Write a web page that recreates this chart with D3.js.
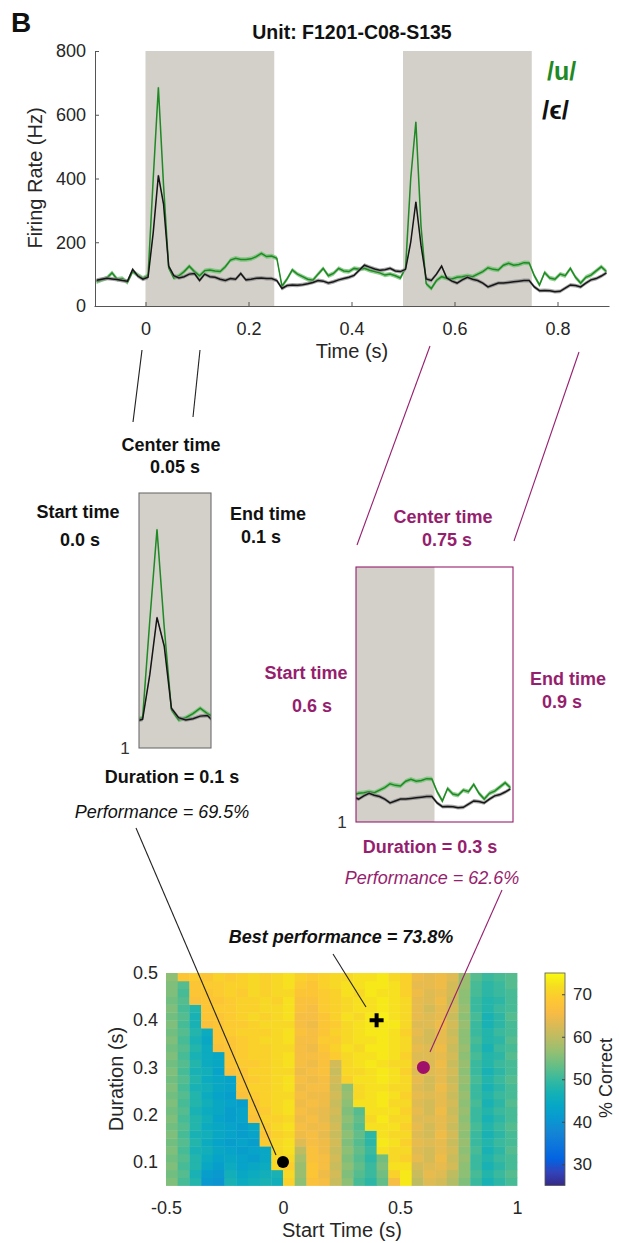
<!DOCTYPE html>
<html><head><meta charset="utf-8">
<script src="https://cdn.jsdelivr.net/npm/d3@7"></script>
<style>
body{margin:0;background:#fff}
svg{display:block}
text{font-family:"Liberation Sans",Arial,Helvetica,sans-serif}
</style>
</head><body>
<svg id="fig" width="619" height="1243"></svg>
<script>
// ---------- PSTH (10 ms bins, -0.1 s to 0.9 s) ----------
const binStart = -0.1, binWidth = 0.01;
const rateU = [76,82,88,104,84,86,74,108,97,87,
  95,400,686,380,120,88,95,108,125,108,
  95,111,113,110,108,123,144,150,146,146,
  148,155,165,155,157,150,62,85,113,100,
  92,84,81,100,118,95,102,118,110,108,
  118,115,118,112,108,104,97,100,95,88,
  120,400,578,250,70,55,80,92,87,85,
  90,92,95,92,100,108,120,115,113,128,
  134,128,130,136,135,95,66,105,88,84,
  100,95,118,90,72,90,97,110,123,108];
const rateE = [81,84,87,85,83,80,78,115,94,84,
  90,230,410,320,125,95,88,92,100,102,
  80,100,92,90,84,80,86,84,102,82,
  84,87,88,86,86,80,55,64,66,65,
  67,70,74,80,78,72,76,82,86,90,
  96,112,128,122,116,112,114,118,110,108,
  115,200,327,190,85,80,100,125,88,78,
  72,82,90,84,80,72,60,66,72,72,
  74,76,78,80,80,60,48,49,48,45,
  46,56,66,64,60,72,82,86,94,104];
const semU = 7, semE = 6;
const stimStarts = [0, 0.5];
const stimDuration = 0.25;
const rateTicks = [0, 200, 400, 600, 800];
const timeTicks = [0, 0.2, 0.4, 0.6, 0.8];

// ---------- decoding windows ----------
const windowA = {start: 0.0, end: 0.1, center: 0.05, duration: 0.1, perf: 69.5};
const windowB = {start: 0.6, end: 0.9, center: 0.75, duration: 0.3, perf: 62.6};
const best = {start: 0.4, duration: 0.4, perf: 73.8};

// ---------- % correct map: rows = durations (short to long), cols = start times ----------
const startTimes = [-0.5,-0.45,-0.4,-0.35,-0.3,-0.25,-0.2,-0.15,-0.1,-0.05,0,0.05,0.1,0.15,0.2,0.25,0.3,0.35,0.4,0.45,0.5,0.55,0.6,0.65,0.7,0.75,0.8,0.85,0.9,0.95];
const durations = [0.058,0.075,0.092,0.108,0.125,0.142,0.158,0.175,0.192,0.208,0.225,0.242,0.258,0.275,0.292,0.308,0.325,0.342,0.358,0.375,0.392,0.408,0.425,0.442,0.458,0.475,0.492];
const pctCorrect = [
 [55,51,48,41,40,47,45,46,47,46,70,56,67,66,61,56,51,49,53,66,73,60,63,62,59,55,50,47,49,51],
 [54,52,47,42,41,46,44,45,46,47,71,57,68,65,62,55,52,50,54,70,73,61,64,63,60,56,51,48,50,52],
 [55,51,48,44,42,45,43,44,45,71,69.5,57,68,66,61,56,53,50,55,72,72,62,63,64,62,56,50,47,49,51],
 [54,52,48,45,43,44,43,42,44,71,71,58,67,66,62,55,52,49,54,71,70,64,62,65,61,57,50,48,50,51],
 [55,51,47,46,44,43,42,43,44,71,72,60,67,65,61,56,53,50,72,71,71,63,62,64,62,56,51,47,49,52],
 [54,52,48,45,43,42,43,42,69,71,72,63,66,65,62,55,52,49,73,72,70,64,63,64,61,57,50,48,50,51],
 [55,51,47,46,44,43,42,43,68,70,71,65,66,64,61,56,53,49,72,71,71,63,62,65,62,56,50,47,49,51],
 [54,52,48,45,44,43,42,44,69,71,72,66,65,65,62,55,52,72,72,72,70,64,62,64,61,57,51,48,50,52],
 [55,51,48,46,43,42,43,67,70,70,71,65,66,64,61,56,53,71,73,71,71,63,63,64,62,56,50,47,49,51],
 [54,52,47,45,44,42,43,68,69,71,72,66,65,64,62,55,52,72,72,72,70,64,62,65,61,57,50,48,50,51],
 [55,51,48,46,44,43,42,68,70,71,72,65,66,65,61,56,72,72,73,71,71,63,62,64,62,56,51,47,49,52],
 [54,52,48,45,43,42,67,69,70,71,71,66,65,65,62,57,71,72,73,72,70,64,63,64,61,57,50,48,50,51],
 [55,51,47,46,44,43,68,70,70,71,72,65,66,66,61,56,71,72,72,71,71,63,62,65,62,56,50,47,49,51],
 [54,52,48,45,44,43,68,69,70,71,72,66,65,66,62,70,72,72,73,72,71,64,62,64,61,57,51,48,50,52],
 [55,51,47,46,43,67,68,70,70,71,71,65,66,67,61,71,71,72,73,72,70,63,63,64,62,56,50,47,49,51],
 [54,52,48,45,44,68,69,69,70,71,72,66,65,67,62,71,72,73,72,71,71,64,62.6,65,61,57,50,48,50,51],
 [55,51,47,45,44,68,69,70,70,71,72,66,66,67,69,71,72,72,73,72,70,63,63,64,62,56,51,48,49,52],
 [54,52,48,45,67,68,69,70,70,71,71,66,65,68,70,72,71,73,73,72,71,64,63,65,61,57,50,47,50,51],
 [55,51,47,44,68,68,69,70,71,71,72,66,66,69,69,71,72,72,73,72,71,63,62,64,62,56,51,48,49,52],
 [54,52,48,45,68,69,70,70,70,71,72,67,66,68,70,71,72,73,73,72,70,64,62,64,61,56,50,48,50,51],
 [55,51,47,67,68,69,69,70,71,71,71,66,65,68,69,71,72,73,73,73,71,63,63,65,62,57,50,47,49,51],
 [54,52,47,68,68,69,70,71,70,71,72,66,66,68,70,72,71,73,73.8,72,71,64,63,64,61,56,51,47,49,52],
 [55,51,48,68,69,69,70,70,71,71,72,67,66,69,70,71,72,72,73,72,71,64,62,64,62,57,50,48,50,51],
 [54,52,67,68,68,69,70,70,71,70,72,67,67,69,70,71,72,72,73,72,71,64,63,65,61,56,50,48,49,51],
 [55,51,68,68,69,70,69,71,70,71,71,68,68,69,70,72,71,73,72,72,70,65,63,64,62,56,51,49,50,51],
 [55,52,68,69,69,70,70,71,70,71,72,69,68,70,71,72,72,73,73,72,70,64,64,65,62,57,51,49,50,52],
 [56,68,69,68,70,69,70,71,70,71,72,70,69,70,71,71,72,72,73,71,70,65,64,65,63,57,52,50,51,52]
];
const colorLimits = [25, 75];
const colorTicks = [30, 40, 50, 60, 70];
const startTicks = [-0.5, 0, 0.5, 1];
const durTicks = [0.1, 0.2, 0.3, 0.4, 0.5];

// parula colour map
const parula = ["#352a87","#3243ba","#0363e1","#0d75dc","#1485d4","#0998d1","#06a7c6","#15b1b4",
  "#38b99e","#65be86","#92bf73","#b7bd64","#d9ba56","#f8bb44","#fec832","#f5dd21","#f9fb0e"];
const parulaInterp = d3.interpolateRgbBasis(parula);

// ---------- styles ----------
const GREEN = "#1f8a24", GREEN_BAND = "#74c074";
const DARK = "#161616", DARK_BAND = "#8a8a8a";
const STIM_FILL = "#d3cfc9";
const MAG = "#961e6e";
const TXT = "#262626";

const svg = d3.select("#fig");
const times = rateU.map((_, i) => binStart + (i + 0.5) * binWidth);

function drawTraces(g, x, y) {
  const band = sem => d3.area()
    .x((d, i) => x(times[i])).y0(d => y(d - sem)).y1(d => y(d + sem));
  const line = d3.line().x((d, i) => x(times[i])).y(d => y(d));
  g.append("path").attr("d", band(semU)(rateU)).attr("fill", GREEN_BAND).attr("opacity", 0.8);
  g.append("path").attr("d", line(rateU)).attr("fill", "none").attr("stroke", GREEN).attr("stroke-width", 1.5);
  g.append("path").attr("d", band(semE)(rateE)).attr("fill", DARK_BAND).attr("opacity", 0.75);
  g.append("path").attr("d", line(rateE)).attr("fill", "none").attr("stroke", DARK).attr("stroke-width", 1.5);
}

// ---------- panel letter and title ----------
svg.append("text").attr("x", 11).attr("y", 32).attr("font-size", 28).attr("font-weight", "bold")
  .attr("fill", "#111").text("B");
svg.append("text").attr("x", 352).attr("y", 39).attr("text-anchor", "middle")
  .attr("font-size", 19.5).attr("font-weight", "bold").attr("fill", "#111")
  .text("Unit: F1201-C08-S135");

// ---------- main PSTH ----------
const xMain = d3.scaleLinear([-0.1, 0.9], [94, 609]);
const yMain = d3.scaleLinear([0, 800], [306, 51]);
const main = svg.append("g");
main.selectAll("rect.stim").data(stimStarts).join("rect").attr("class", "stim")
  .attr("x", d => xMain(d)).attr("y", yMain(800))
  .attr("width", d => xMain(d + stimDuration) - xMain(d)).attr("height", yMain(0) - yMain(800))
  .attr("fill", STIM_FILL);
svg.append("clipPath").attr("id", "clipMain").append("rect")
  .attr("x", xMain(-0.1)).attr("y", yMain(800) - 10).attr("width", xMain(0.9) - xMain(-0.1)).attr("height", 270);
drawTraces(main.append("g").attr("clip-path", "url(#clipMain)"), xMain, yMain);

const yAx = main.append("g").attr("transform", `translate(${xMain(-0.1) + 1},0)`)
  .call(d3.axisLeft(yMain).tickValues(rateTicks).tickSize(-4).tickSizeOuter(0).tickPadding(9));
const xAx = main.append("g").attr("transform", `translate(0,${yMain(0)})`)
  .call(d3.axisBottom(xMain).tickValues(timeTicks).tickFormat(d => d === 0 ? "0" : d)
    .tickSize(-4).tickSizeOuter(0).tickPadding(16));
[yAx, xAx].forEach(a => {
  a.selectAll("path,line").attr("stroke", "#555").attr("stroke-width", 1);
  a.selectAll("text").attr("font-size", 18).attr("fill", TXT).attr("font-family", "Liberation Sans, Arial, sans-serif");
});
main.append("text").attr("transform", "translate(42,178) rotate(-90)").attr("text-anchor", "middle")
  .attr("font-size", 20).attr("fill", TXT).text("Firing Rate (Hz)");
main.append("text").attr("x", 352).attr("y", 358).attr("text-anchor", "middle")
  .attr("font-size", 20).attr("fill", TXT).text("Time (s)");

// legend
svg.append("text").attr("x", 547).attr("y", 80).attr("font-size", 25).attr("font-weight", "bold")
  .attr("fill", GREEN).text("/u/");
svg.append("text").attr("x", 542).attr("y", 119).attr("font-size", 26).attr("font-weight", "bold")
  .attr("fill", "#111").text("/ϵ/");

// ---------- zoomed windows ----------
function windowPanel(w, box, stroke, color, labels) {
  const x = d3.scaleLinear([w.start, w.end], [box.x0, box.x1]);
  const y = d3.scaleLinear([0, 800], [box.y1, box.y0]);
  const g = svg.append("g");
  const id = "clip" + Math.round(w.start * 100);
  svg.append("clipPath").attr("id", id).append("rect")
    .attr("x", box.x0).attr("y", box.y0).attr("width", box.x1 - box.x0).attr("height", box.y1 - box.y0);
  const inner = g.append("g").attr("clip-path", `url(#${id})`);
  stimStarts.forEach(s => {
    const a = Math.max(s, w.start), b = Math.min(s + stimDuration, w.end);
    if (b > a) inner.append("rect").attr("x", x(a)).attr("y", box.y0)
      .attr("width", x(b) - x(a)).attr("height", box.y1 - box.y0).attr("fill", STIM_FILL);
  });
  drawTraces(inner, x, y);
  g.append("rect").attr("x", box.x0).attr("y", box.y0).attr("width", box.x1 - box.x0)
    .attr("height", box.y1 - box.y0).attr("fill", "none").attr("stroke", stroke).attr("stroke-width", 1.1);
  g.append("text").attr("x", box.x0 - 14).attr("y", box.y1 + 6).attr("text-anchor", "middle")
    .attr("font-size", 17).attr("fill", "#333").text("1");
  labels.forEach(l => g.append("text").attr("x", l.x).attr("y", l.y).attr("text-anchor", "middle")
    .attr("font-size", 18).attr("font-weight", l.italic ? "normal" : "bold")
    .attr("font-style", l.italic ? "italic" : "normal").attr("fill", color).text(l.t));
}

windowPanel(windowA, {x0: 139, x1: 211, y0: 493, y1: 748}, "#6e6e6e", "#111", [
  {t: "Center time", x: 171, y: 451},
  {t: windowA.center.toFixed(2) + " s", x: 175, y: 473},
  {t: "Start time", x: 78, y: 518},
  {t: windowA.start.toFixed(1) + " s", x: 80, y: 546},
  {t: "End time", x: 268, y: 520},
  {t: windowA.end.toFixed(1) + " s", x: 261, y: 543},
  {t: "Duration = " + windowA.duration + " s", x: 172, y: 783},
  {t: "Performance = " + windowA.perf.toFixed(1) + "%", x: 162, y: 818, italic: true}
]);
windowPanel(windowB, {x0: 356, x1: 513, y0: 567, y1: 822}, MAG, MAG, [
  {t: "Center time", x: 443, y: 523},
  {t: windowB.center.toFixed(2) + " s", x: 447, y: 546},
  {t: "Start time", x: 306, y: 679},
  {t: windowB.start.toFixed(1) + " s", x: 312, y: 712},
  {t: "End time", x: 568, y: 685},
  {t: windowB.end.toFixed(1) + " s", x: 562, y: 708},
  {t: "Duration = " + windowB.duration + " s", x: 430, y: 853},
  {t: "Performance = " + windowB.perf.toFixed(1) + "%", x: 432, y: 884, italic: true}
]);

svg.append("text").attr("x", 341).attr("y", 943).attr("text-anchor", "middle")
  .attr("font-size", 18).attr("font-weight", "bold").attr("font-style", "italic").attr("fill", "#111")
  .text("Best performance = " + best.perf.toFixed(1) + "%");

// ---------- heat map ----------
const hx = d3.scaleLinear([-0.5, 1], [166, 517]);
const hy = d3.scaleLinear([0.05, 0.5], [1185.5, 973]);
const cx = d3.scaleBand(startTimes, [166, 517]);
const cy = d3.scaleBand(durations, [1185.5, 973]);
const color = d3.scaleSequential(parulaInterp).domain(colorLimits).clamp(true);
const heat = svg.append("g");
pctCorrect.forEach((row, r) => {
  heat.selectAll(null).data(row).join("rect")
    .attr("x", (v, c) => cx(startTimes[c])).attr("y", cy(durations[r]))
    .attr("width", cx.bandwidth() + 0.4).attr("height", cy.bandwidth() + 0.4)
    .attr("fill", v => color(v));
});

const hxAx = svg.append("g").attr("transform", "translate(0,1185.5)")
  .call(d3.axisBottom(hx).tickValues(startTicks).tickFormat(d => d).tickSize(0).tickPadding(16));
const hyAx = svg.append("g").attr("transform", "translate(166,0)")
  .call(d3.axisLeft(hy).tickValues(durTicks).tickFormat(d3.format(".1f")).tickSize(0).tickPadding(8));
[hxAx, hyAx].forEach(a => {
  a.select(".domain").remove();
  a.selectAll("text").attr("font-size", 18).attr("fill", TXT).attr("font-family", "Liberation Sans, Arial, sans-serif");
});
svg.append("text").attr("x", 342).attr("y", 1237).attr("text-anchor", "middle")
  .attr("font-size", 20).attr("fill", TXT).text("Start Time (s)");
svg.append("text").attr("transform", "translate(123,1079) rotate(-90)").attr("text-anchor", "middle")
  .attr("font-size", 20).attr("fill", TXT).text("Duration (s)");

// connector lines from the PSTH to the zoomed windows and from the labels to the map
const connectors = [
  {p: [[142, 350], [133, 422]], c: "#222"},
  {p: [[200, 350], [193, 417]], c: "#222"},
  {p: [[430, 346], [357, 545]], c: MAG},
  {p: [[579, 352], [514, 541]], c: MAG},
  {p: [[136, 828], [276, 1155]], c: "#222"},
  {p: [[502, 890], [430, 1052]], c: MAG},
  {p: [[333, 954], [366, 1007]], c: "#222"}
];
connectors.forEach(k => svg.append("line")
  .attr("x1", k.p[0][0]).attr("y1", k.p[0][1]).attr("x2", k.p[1][0]).attr("y2", k.p[1][1])
  .attr("stroke", k.c).attr("stroke-width", 1.1));

// window markers
svg.append("circle").attr("cx", hx(windowA.start)).attr("cy", hy(windowA.duration)).attr("r", 6).attr("fill", "#000");
svg.append("circle").attr("cx", hx(windowB.start)).attr("cy", hy(windowB.duration)).attr("r", 6.5).attr("fill", "#a0106a");
const px = hx(best.start), py = hy(best.duration);
svg.append("path").attr("d", `M${px - 7},${py}H${px + 7}M${px},${py - 7}V${py + 7}`)
  .attr("stroke", "#000").attr("stroke-width", 4);

// colour bar
const cb = d3.scaleLinear(colorLimits, [1185.5, 973]);
const grad = svg.append("defs").append("linearGradient").attr("id", "cbGrad")
  .attr("x1", 0).attr("y1", 1).attr("x2", 0).attr("y2", 0);
parula.forEach((c, i) => grad.append("stop").attr("offset", i / (parula.length - 1)).attr("stop-color", c));
svg.append("rect").attr("x", 545).attr("y", 973).attr("width", 20).attr("height", 212.5)
  .attr("fill", "url(#cbGrad)").attr("stroke", "#555").attr("stroke-width", 0.8);
const cbAx = svg.append("g").attr("transform", "translate(565,0)")
  .call(d3.axisRight(cb).tickValues(colorTicks).tickSize(-3).tickSizeOuter(0).tickPadding(8));
cbAx.select(".domain").remove();
cbAx.selectAll("line").attr("stroke", "#444");
cbAx.selectAll("text").attr("font-size", 17).attr("fill", TXT).attr("font-family", "Liberation Sans, Arial, sans-serif");
svg.append("text").attr("transform", "translate(612,1078) rotate(-90)").attr("text-anchor", "middle")
  .attr("font-size", 18).attr("fill", TXT).text("% Correct");
</script>
</body></html>
